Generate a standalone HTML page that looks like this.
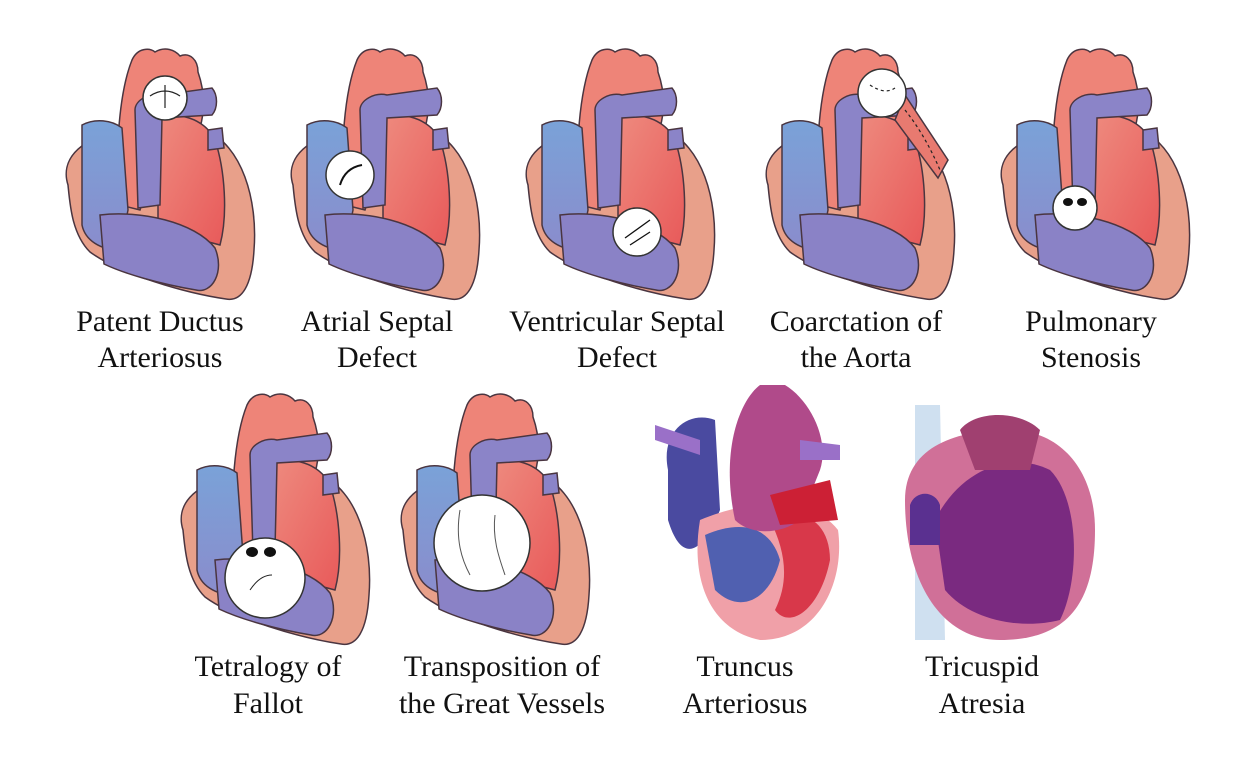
<!DOCTYPE html>
<html><head><meta charset="utf-8"><style>
html,body{margin:0;padding:0;background:#fff;width:1248px;height:769px;overflow:hidden}
svg{display:block}
text{font-family:"Liberation Serif",serif;font-size:30px;fill:#111;text-anchor:middle}
</style></head><body>
<svg width="1248" height="769" viewBox="0 0 1248 769">
<defs>
<linearGradient id="bl" x1="0" y1="0" x2="0" y2="1"><stop offset="0" stop-color="#7aa2d8"/><stop offset="1" stop-color="#8a8ccc"/></linearGradient>
<linearGradient id="rd" x1="0" y1="0" x2="1" y2="1"><stop offset="0" stop-color="#ee8a7e"/><stop offset="1" stop-color="#e85a5a"/></linearGradient>
<g id="heart" stroke="#4a3540" stroke-width="1.5">
  <path d="M68,185 C60,160 80,140 110,135 L205,130 C242,145 258,200 254,250 C252,285 242,302 226,299 C185,293 120,274 90,252 C72,234 70,205 68,185Z" fill="#e8a08a"/>
  <path d="M120,205 C114,150 120,90 132,60 C138,47 150,48 155,52 C165,46 175,50 180,56 C190,52 198,60 198,72 C205,92 205,110 200,128 L165,135 L140,210Z" fill="#ee8478"/>
  <path d="M158,120 C175,110 205,118 215,140 C225,170 228,215 220,245 C200,240 175,232 158,225Z" fill="url(#rd)"/>
  <path d="M82,125 C95,118 112,120 122,128 L128,210 L120,250 C100,250 85,240 82,225Z" fill="url(#bl)"/>
  <path d="M100,215 C140,210 195,222 215,248 C225,272 212,294 196,290 C160,284 125,274 104,264Z" fill="#8a82c6"/>
  <path d="M135,110 C135,100 150,92 162,95 L212,88 C218,95 218,108 212,115 L162,118 L160,205 L138,208Z" fill="#8b84c8"/>
  <path d="M208,130 L222,128 L224,148 L208,150Z" fill="#8b84c8"/>
</g>
</defs>

<use href="#heart"/>
<circle cx="165" cy="98" r="22" fill="#fff" stroke="#333" stroke-width="1.5"/>
<path d="M150,96 Q165,86 180,96 M165,85 L165,108" stroke="#222" fill="none" stroke-width="1.2"/>

<use href="#heart" x="225"/>
<circle cx="350" cy="175" r="24" fill="#fff" stroke="#333" stroke-width="1.5"/>
<path d="M362,165 Q345,168 340,185" stroke="#111" stroke-width="2" fill="none"/>

<use href="#heart" x="460"/>
<circle cx="637" cy="232" r="24" fill="#fff" stroke="#333" stroke-width="1.5"/>
<path d="M650,220 L625,238 M630,245 L650,232" stroke="#111" stroke-width="1.3" fill="none"/>

<use href="#heart" x="700"/>
<path d="M905,95 L948,160 L938,178 L895,120Z" fill="#e87a70" stroke="#4a3540" stroke-width="1.5"/>
<circle cx="882" cy="93" r="24" fill="#fff" stroke="#333" stroke-width="1.5"/>
<path d="M870,85 Q885,95 895,88 M905,110 Q925,135 940,170" stroke="#222" stroke-width="1.2" fill="none" stroke-dasharray="3,3"/>

<use href="#heart" x="935"/>
<circle cx="1075" cy="208" r="22" fill="#fff" stroke="#333" stroke-width="1.5"/>
<ellipse cx="1068" cy="202" rx="5" ry="4" fill="#111"/><ellipse cx="1082" cy="202" rx="5" ry="4" fill="#111"/>

<use href="#heart" x="115" y="345"/>
<circle cx="265" cy="578" r="40" fill="#fff" stroke="#333" stroke-width="1.5"/>
<ellipse cx="252" cy="552" rx="6" ry="5" fill="#111"/><ellipse cx="270" cy="552" rx="6" ry="5" fill="#111"/>
<path d="M250,590 Q260,575 272,575" stroke="#222" fill="none"/>

<use href="#heart" x="335" y="345"/>
<circle cx="482" cy="543" r="48" fill="#fff" stroke="#333" stroke-width="1.5"/>
<path d="M460,510 C455,540 462,560 470,575 M495,515 C492,540 500,560 505,575" stroke="#555" fill="none"/>

<!-- Truncus -->
<path d="M668,470 C660,430 690,410 715,420 L720,510 C700,560 680,560 668,520Z" fill="#4a4aa0"/>
<path d="M700,520 C760,495 815,500 838,530 C845,580 820,640 760,640 C710,630 690,580 700,520Z" fill="#f0a0a8"/>
<path d="M705,535 C740,520 770,525 780,560 C770,600 740,615 715,590Z" fill="#5060b0"/>
<path d="M770,520 C800,505 830,520 830,560 C820,610 790,630 775,610 C790,580 785,550 770,520Z" fill="#d8384a"/>
<path d="M735,520 C720,450 740,400 760,385 L785,385 C810,400 830,440 820,470 L800,520 C780,535 750,535 735,520Z" fill="#b04a8a"/>
<path d="M655,425 L700,440 L700,455 L655,440Z M800,440 L840,445 L840,460 L800,460Z" fill="#9a70c8"/>
<path d="M770,495 L830,480 L838,520 L780,525Z" fill="#cc2035"/>

<!-- Tricuspid -->
<path d="M915,405 L940,405 L945,640 L915,640Z" fill="#cfe0f0"/>
<path d="M905,500 C905,450 950,430 1010,430 C1060,430 1095,470 1095,530 C1095,600 1070,640 1000,640 C940,640 905,580 905,500Z" fill="#d07098"/>
<path d="M935,520 C960,470 1010,450 1050,470 C1080,500 1080,580 1060,620 C1020,630 970,620 945,590Z" fill="#7a2a80"/>
<path d="M960,430 C975,410 1020,410 1040,430 L1030,470 L975,470Z" fill="#a04070"/>
<path d="M910,505 C915,490 935,490 940,505 L940,545 L910,545Z" fill="#5a3090"/>

<text x="160" y="331">Patent Ductus</text><text x="160" y="367">Arteriosus</text>
<text x="377" y="331">Atrial Septal</text><text x="377" y="367">Defect</text>
<text x="617" y="331">Ventricular Septal</text><text x="617" y="367">Defect</text>
<text x="856" y="331">Coarctation of</text><text x="856" y="367">the Aorta</text>
<text x="1091" y="331">Pulmonary</text><text x="1091" y="367">Stenosis</text>
<text x="268" y="676">Tetralogy of</text><text x="268" y="713">Fallot</text>
<text x="502" y="676">Transposition of</text><text x="502" y="713">the Great Vessels</text>
<text x="745" y="676">Truncus</text><text x="745" y="713">Arteriosus</text>
<text x="982" y="676">Tricuspid</text><text x="982" y="713">Atresia</text>
</svg>
</body></html>
